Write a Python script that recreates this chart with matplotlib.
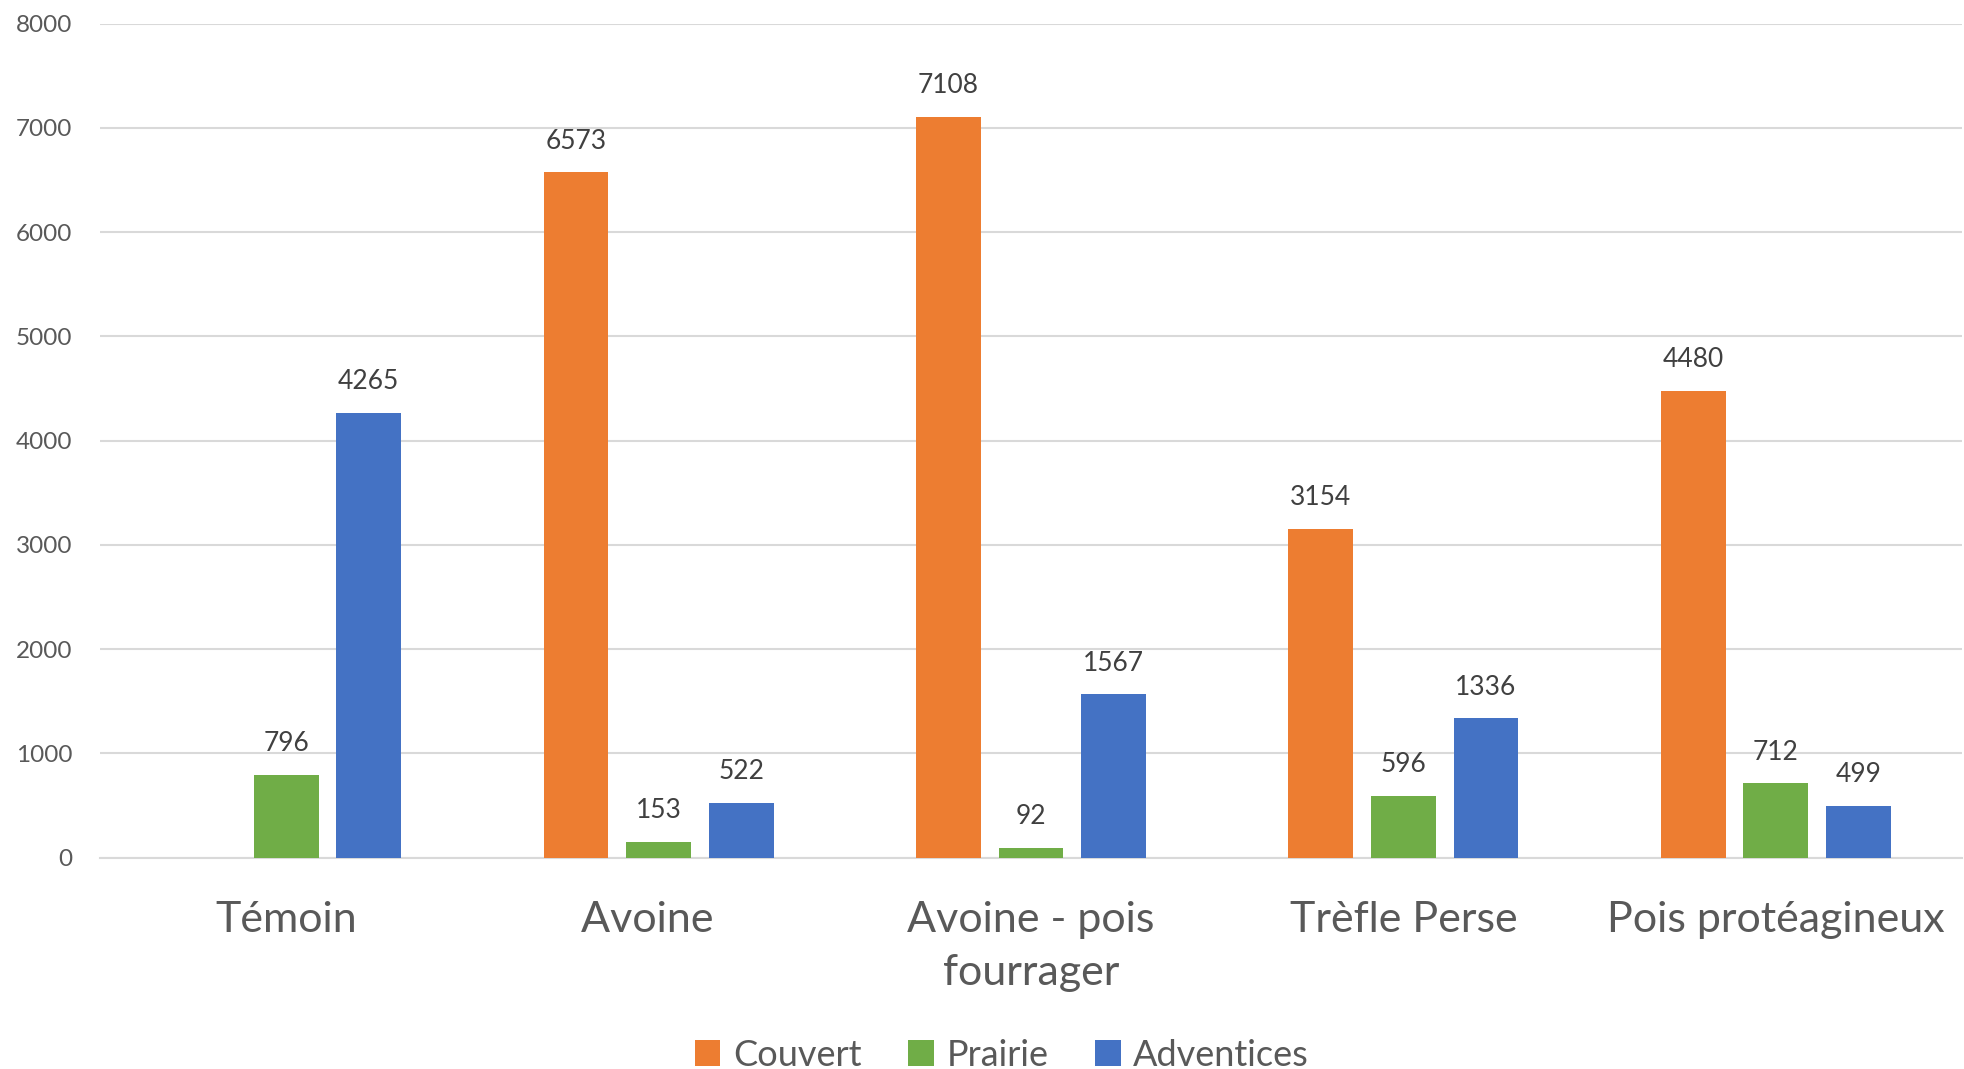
import matplotlib
matplotlib.use("Agg")
import matplotlib.pyplot as plt
import numpy as np

categories = ["Témoin", "Avoine  ", "Avoine - pois\nfourrager", "Trèfle Perse", "Pois protéagineux"]
series_names = ["Couvert", "Prairie", "Adventices"]
couvert = [np.nan, 6573, 7108, 3154, 4480]
prairie = [796, 153, 92, 596, 712]
adventices = [4265, 522, 1567, 1336, 499]
colors = ["#ED7D31", "#70AD47", "#4472C4"]
yticks = [0, 1000, 2000, 3000, 4000, 5000, 6000, 7000, 8000]

plt.rcParams['font.family'] = ['Lato', 'DejaVu Sans']

fig = plt.figure(figsize=(19.64, 10.69), dpi=100)
ax = fig.add_axes([100/1964, 211.3/1069, 1862/1964, (857.7-23.5)/1069])

x = np.arange(len(categories))
bw = 0.1745
step = 0.2218
data = [couvert, prairie, adventices]
for i, (vals, col, name) in enumerate(zip(data, colors, series_names)):
    pos = x + (i - 1) * step
    v = np.array(vals, dtype=float)
    ax.bar(pos, np.nan_to_num(v), width=bw, color=col, label=name, zorder=3)
    for p, val in zip(pos, v):
        if not np.isnan(val):
            ax.text(p, val + 180, f"{int(val)}", ha="center", va="bottom",
                    fontsize=19, color="#404040", zorder=4)

ax.set_xlim(-0.5, len(categories) - 0.5)
ax.set_ylim(0, 8000)
ax.set_yticks(yticks)
ax.set_yticklabels([str(t) for t in yticks])
ax.set_xticks(x)
ax.set_xticklabels(categories, linespacing=1.5)
ax.yaxis.grid(True, color="#D9D9D9", linewidth=1.5, zorder=0)
ax.set_axisbelow(True)
for s in ["top", "right", "left"]:
    ax.spines[s].set_visible(False)
ax.spines["bottom"].set_color("#D9D9D9")
ax.spines["bottom"].set_linewidth(1.5)
ax.tick_params(axis="y", length=0, pad=20, labelsize=17.5, labelcolor="#595959")
ax.tick_params(axis="x", length=0, pad=31, labelsize=31, labelcolor="#595959")

handles, labels = ax.get_legend_handles_labels()
leg = fig.legend(handles, labels, loc="center", bbox_to_anchor=(1002/1964, 1 - 1055/1069),
                 ncol=3, frameon=False, fontsize=26, handlelength=0.7, handleheight=0.7,
                 handletextpad=0.35, columnspacing=1.3, labelcolor="#595959")

fig.savefig("out.png", dpi=100, facecolor="white")
